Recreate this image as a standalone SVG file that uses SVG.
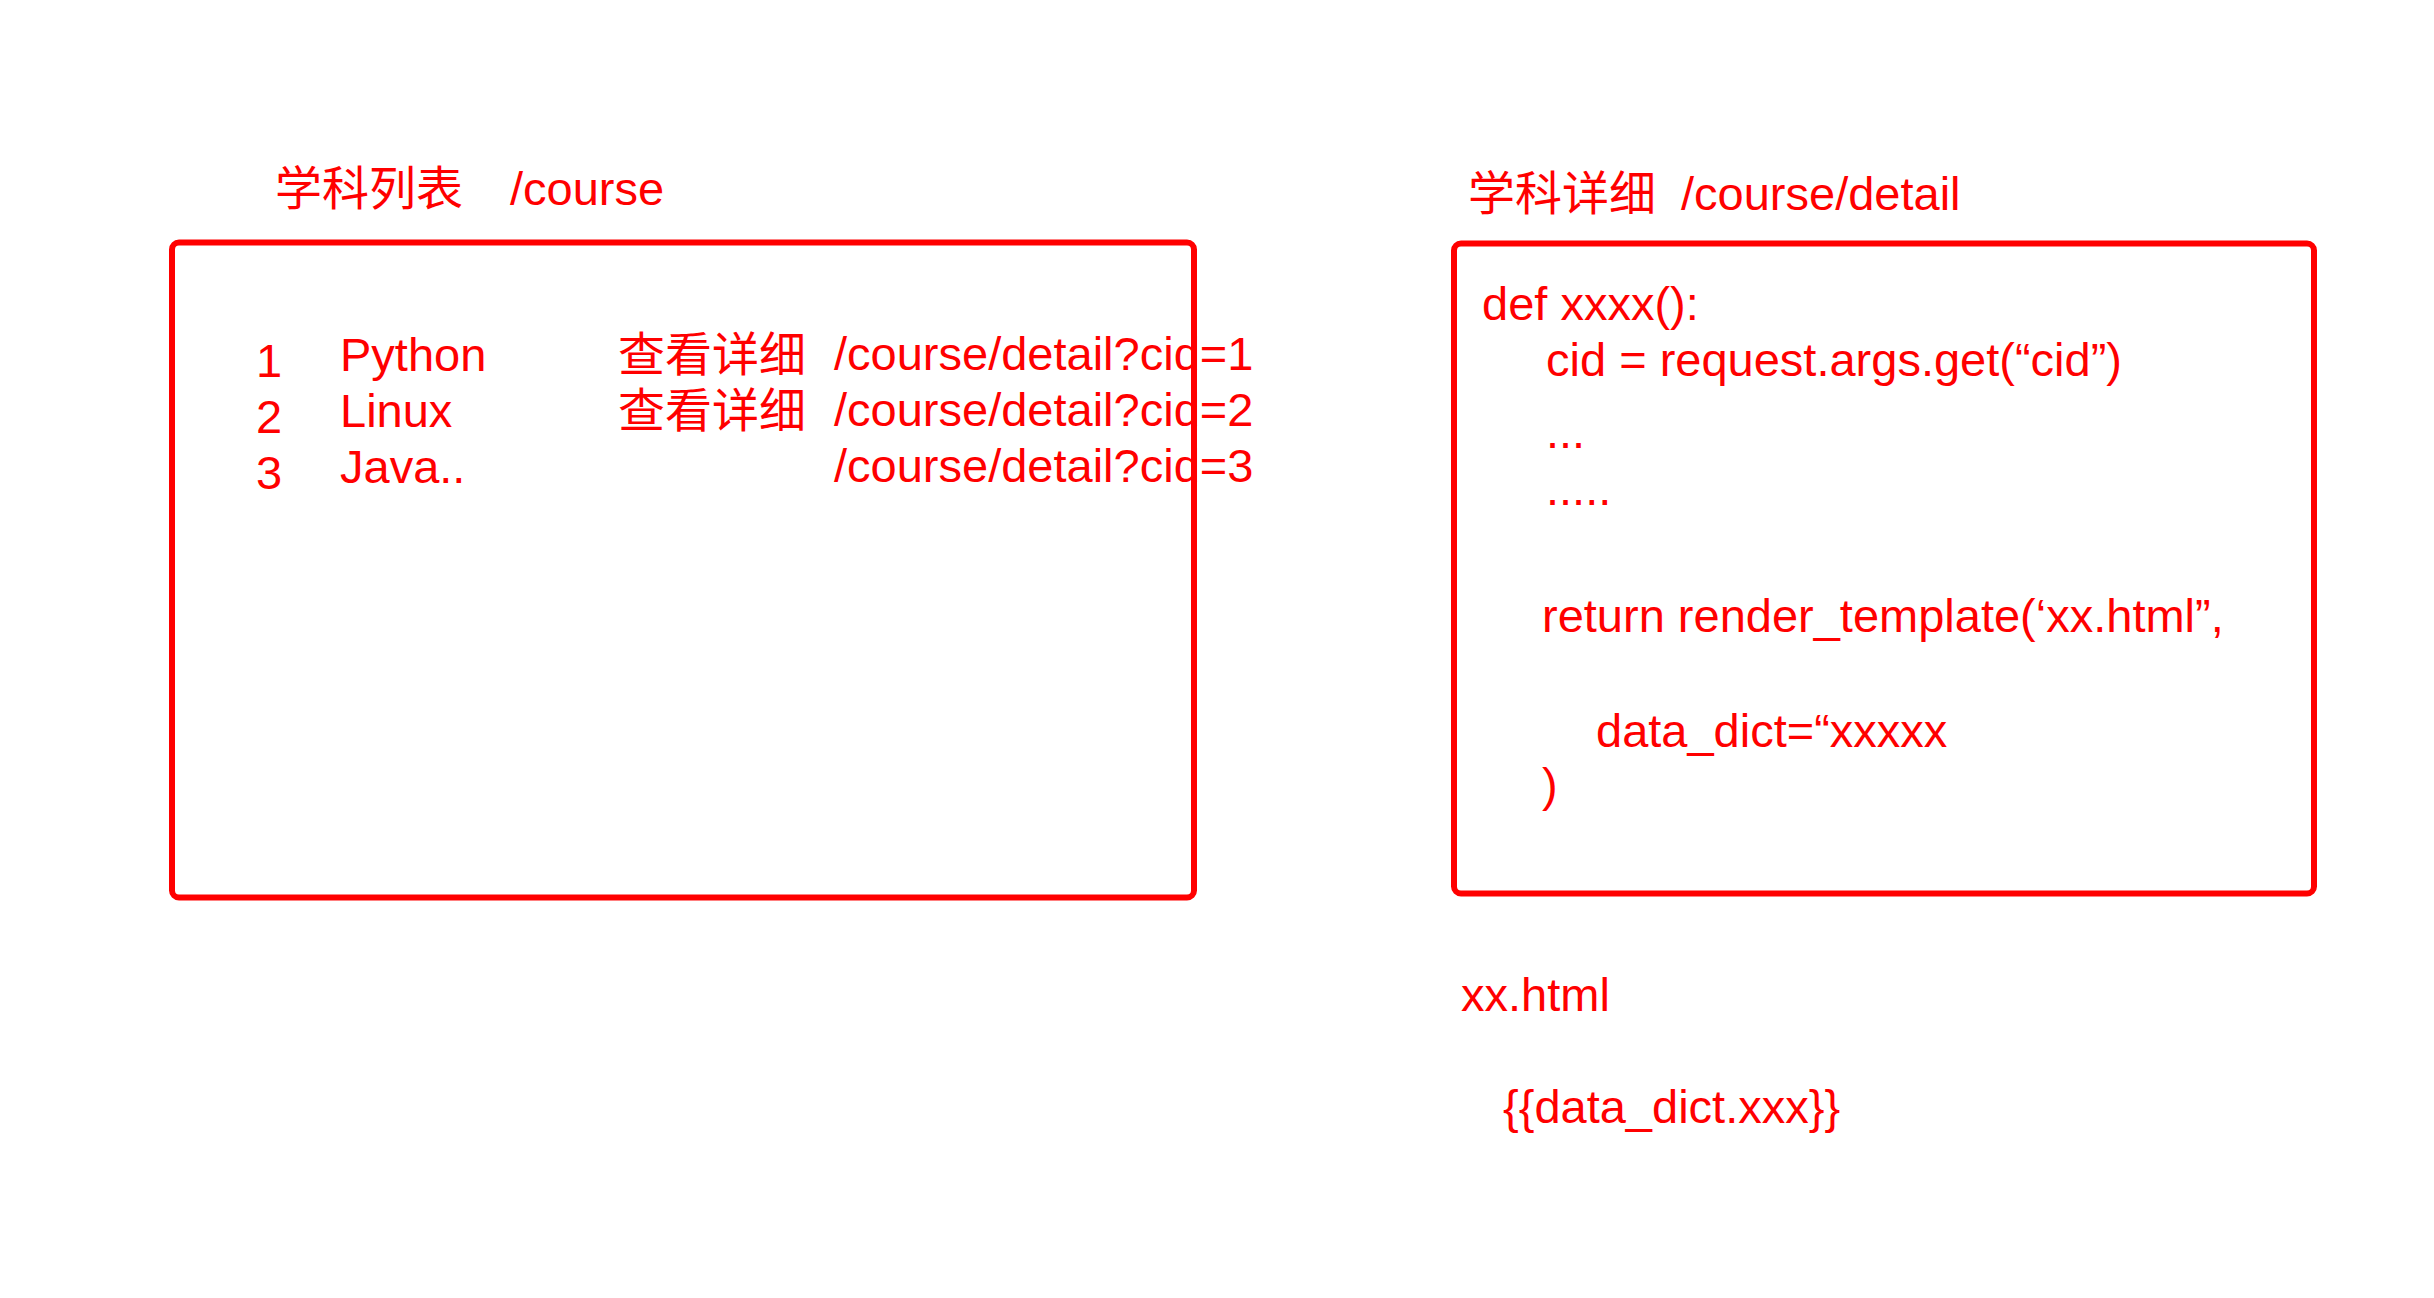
<svg xmlns="http://www.w3.org/2000/svg" width="2434" height="1298" viewBox="0 0 2434 1298">
<style>
text { font-family: "Liberation Sans", "Noto Sans CJK SC", sans-serif; font-size: 47px; fill: #ff0000; }
.box { fill: none; stroke: #ff0000; stroke-width: 6; }
</style>
<rect width="2434" height="1298" fill="#ffffff"/>
<g id="course-list">
  <text x="275" y="205">学科列表<tspan x="510">/course</tspan></text>
  <rect class="box" x="172" y="242.5" width="1022" height="655" rx="7"/>
  <text x="256" y="377">1</text>
  <text x="256" y="433">2</text>
  <text x="256" y="489">3</text>
  <text x="340" y="371">Python</text>
  <text x="340" y="427">Linux</text>
  <text x="340" y="483">Java..</text>
  <text x="618" y="371">查看详细</text>
  <text x="618" y="427">查看详细</text>
  <text x="834" y="370">/course/detail?cid=1</text>
  <text x="834" y="426">/course/detail?cid=2</text>
  <text x="834" y="482">/course/detail?cid=3</text>
</g>
<g id="course-detail">
  <text x="1468" y="210">学科详细<tspan x="1681">/course/detail</tspan></text>
  <rect class="box" x="1454" y="243.5" width="860" height="650" rx="7"/>
  <text x="1482" y="320">def xxxx():</text>
  <text x="1546" y="376">cid = request.args.get(“cid”)</text>
  <text x="1546" y="448">...</text>
  <text x="1546" y="505">.....</text>
  <text x="1542" y="632">return render_template(‘xx.html”,</text>
  <text x="1596" y="747">data_dict=“xxxxx</text>
  <text x="1542" y="801">)</text>
</g>
<g id="template">
  <text x="1461" y="1011">xx.html</text>
  <text x="1503" y="1123">{{data_dict.xxx}}</text>
</g>
<g id="connectors"></g>
</svg>
